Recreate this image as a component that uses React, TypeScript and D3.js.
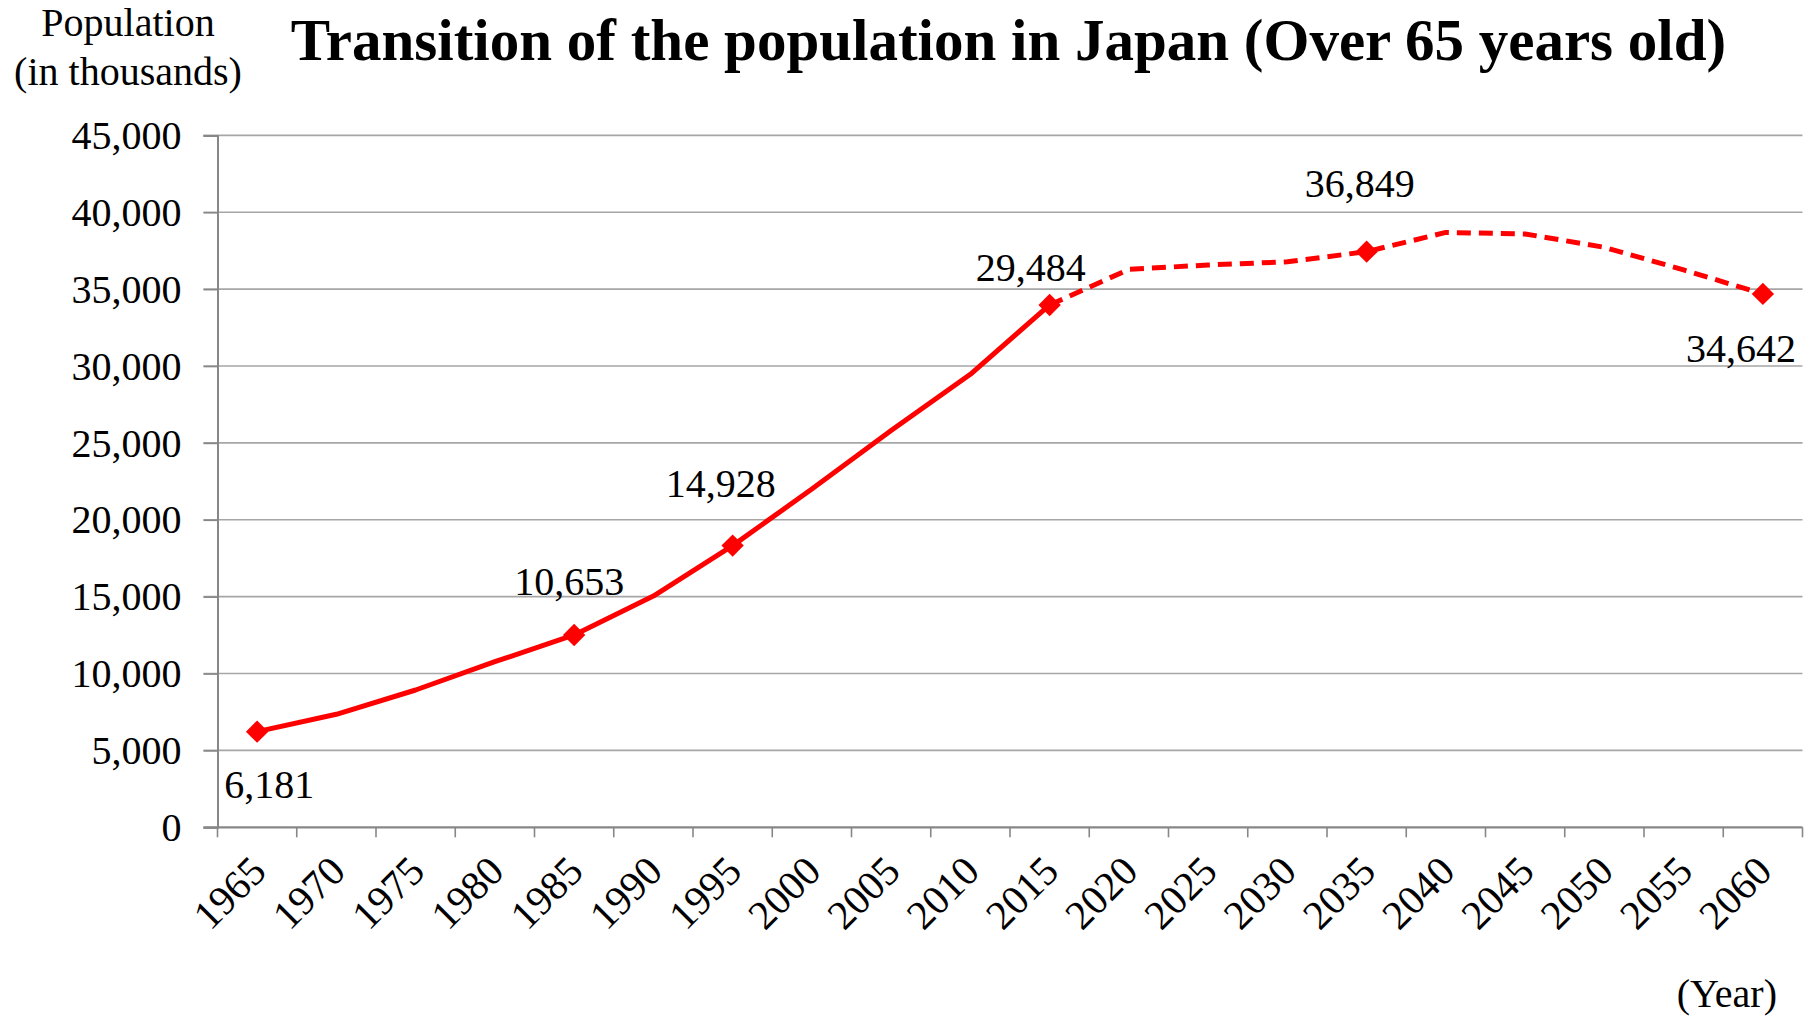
import * as d3 from 'd3';
import { useRef, useEffect } from 'react';

// Population over 65 (thousands)
const years = ['1965', '1970', '1975', '1980', '1985', '1990', '1995', '2000', '2005', '2010',
    '2015', '2020', '2025', '2030', '2035', '2040', '2045', '2050', '2055', '2060'];
const population = [6220, 7350, 8930, 10770, 12510, 15040, 18320, 22000, 25800, 29460,
    33970, 36290, 36570, 36780, 37440, 38690, 38590, 37720, 36250, 34690];
const projectionFrom = '2015';

const markerYears = ['1965', '1985', '1995', '2015', '2035', '2060'];
const markerLabels = ['6,181', '10,653', '14,928', '29,484', '36,849', '34,642'];

const yTicks = [0, 5000, 10000, 15000, 20000, 25000, 30000, 35000, 40000, 45000];

const FONT = '"Liberation Serif", "Times New Roman", serif';

const App = () => {
    const svgRef = useRef<SVGSVGElement>(null);

    useEffect(() => {
        if (!svgRef.current) return;
        const svg = d3.select(svgRef.current);
        svg.selectAll('*').remove();

        const left = 217.5, right = 1802.5, top = 135.4, bottom = 827.3;

        const x = d3.scaleBand().domain(years).range([left, right]).padding(0);
        const y = d3.scaleLinear().domain([0, 45000]).range([bottom, top]);
        const cx = (yr: string) => (x(yr) || 0) + x.bandwidth() / 2;

        const data = years.map((yr, i) => ({ year: yr, value: population[i] }));

        // gridlines
        svg.append('g')
            .selectAll('line')
            .data(yTicks.filter(t => t > 0))
            .enter()
            .append('line')
            .attr('x1', left - 14).attr('x2', right)
            .attr('y1', d => y(d)).attr('y2', d => y(d))
            .attr('stroke', '#a6a6a6').attr('stroke-width', 1.6);

        // y axis
        const yAxis = svg.append('g')
            .attr('transform', `translate(${left},0)`)
            .call(d3.axisLeft(y).tickValues(yTicks).tickFormat(d3.format(',')).tickSize(14).tickPadding(22));
        yAxis.select('.domain').attr('stroke', '#878787').attr('stroke-width', 2);
        yAxis.selectAll('.tick line').attr('stroke', '#878787').attr('stroke-width', 1.6);
        yAxis.selectAll('text')
            .attr('font-family', FONT).attr('font-size', 40).attr('fill', '#000')
            .attr('dy', '0.33em');

        // x axis line and ticks at band edges
        const xg = svg.append('g');
        xg.append('line')
            .attr('x1', left - 14).attr('x2', right)
            .attr('y1', bottom).attr('y2', bottom)
            .attr('stroke', '#878787').attr('stroke-width', 2.2);
        xg.selectAll('.xt')
            .data([...years.map(yr => x(yr) || 0), right])
            .enter()
            .append('line')
            .attr('x1', d => d).attr('x2', d => d)
            .attr('y1', bottom).attr('y2', bottom + 10)
            .attr('stroke', '#878787').attr('stroke-width', 1.6);
        xg.selectAll('.xl')
            .data(years)
            .enter()
            .append('text')
            .attr('transform', d => `translate(${cx(d) + 1},${bottom + 36}) rotate(-45)`)
            .attr('text-anchor', 'end')
            .attr('dy', '0.35em')
            .attr('font-family', FONT).attr('font-size', 41)
            .text(d => d);

        // series
        const line = d3.line<{ year: string; value: number }>()
            .x(d => cx(d.year))
            .y(d => y(d.value));
        const split = years.indexOf(projectionFrom);

        svg.append('path')
            .datum(data.slice(0, split + 1))
            .attr('d', line)
            .attr('fill', 'none').attr('stroke', '#ff0000').attr('stroke-width', 5)
            .attr('stroke-linejoin', 'round');
        svg.append('path')
            .datum(data.slice(split))
            .attr('d', line)
            .attr('fill', 'none').attr('stroke', '#ff0000').attr('stroke-width', 5)
            .attr('stroke-dasharray', '14 8')
            .attr('stroke-linejoin', 'round');

        // diamond markers
        const diamond = d3.symbol().type(d3.symbolSquare).size(250);
        const marks = data.filter(d => markerYears.includes(d.year));
        svg.append('g')
            .selectAll('path')
            .data(marks)
            .enter()
            .append('path')
            .attr('d', diamond)
            .attr('transform', d => `translate(${cx(d.year)},${y(d.value)}) rotate(45)`)
            .attr('fill', '#ff0000');

        // data labels (offsets from marker)
        const labelOffsets = [[12, 66], [-5, -40], [-12, -49], [-19, -24], [-7, -55], [-22, 68]];
        svg.append('g')
            .selectAll('text')
            .data(marks)
            .enter()
            .append('text')
            .attr('x', (d, i) => cx(d.year) + labelOffsets[i][0])
            .attr('y', (d, i) => y(d.value) + labelOffsets[i][1])
            .attr('text-anchor', 'middle')
            .attr('font-family', FONT).attr('font-size', 40)
            .text((d, i) => markerLabels[i]);

        // titles
        svg.append('text')
            .attr('x', 1008.5).attr('y', 60)
            .attr('text-anchor', 'middle')
            .attr('font-family', FONT).attr('font-size', 59).attr('font-weight', 'bold')
            .text('Transition of the population in Japan (Over 65 years old)');

        const yt = svg.append('text')
            .attr('text-anchor', 'middle')
            .attr('font-family', FONT).attr('font-size', 40);
        yt.append('tspan').attr('x', 128).attr('y', 36).text('Population');
        yt.append('tspan').attr('x', 128).attr('y', 85).text('(in thousands)');

        svg.append('text')
            .attr('x', 1777).attr('y', 1007)
            .attr('text-anchor', 'end')
            .attr('font-family', FONT).attr('font-size', 40)
            .text('(Year)');
    }, []);

    return (
        <div style={{ position: 'absolute', left: 0, top: 0 }}>
            <svg ref={svgRef} width={1814} height={1018} style={{ display: 'block', background: '#fff' }} />
        </div>
    );
};

export default App;
